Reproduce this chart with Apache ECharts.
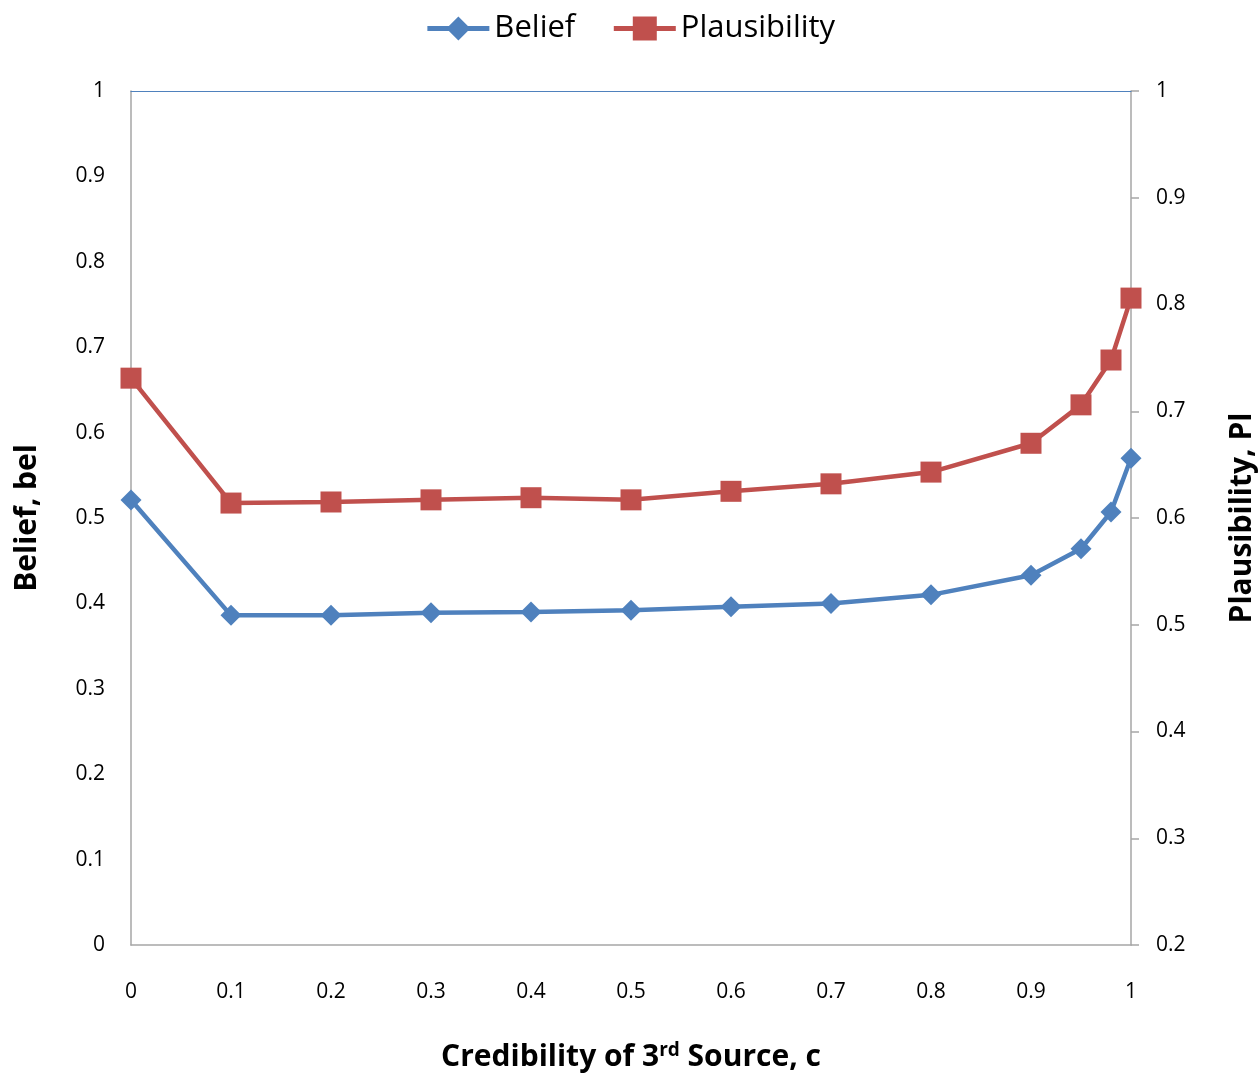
<!DOCTYPE html>
<html>
<head>
<meta charset="utf-8">
<script src="https://cdn.jsdelivr.net/npm/echarts@6/dist/echarts.min.js"></script>
<style>
  html, body { margin: 0; padding: 0; background: #fff; }
  #chart { width: 1260px; height: 1074px; }
</style>
</head>
<body>
<div id="chart"></div>
<script>
// Credibility of the third source
const credibility = [0, 0.1, 0.2, 0.3, 0.4, 0.5, 0.6, 0.7, 0.8, 0.9, 0.95, 0.98, 1];
// Belief (left axis)
const belief = [0.521, 0.386, 0.386, 0.389, 0.390, 0.392, 0.396, 0.400, 0.410, 0.433, 0.464, 0.507, 0.570];
// Plausibility (right axis)
const plausibility = [0.731, 0.614, 0.615, 0.617, 0.619, 0.617, 0.625, 0.632, 0.643, 0.670, 0.706, 0.748, 0.806];

const FONT = '"Open Sans", "Liberation Sans", sans-serif';
const BLUE = '#4f81bd';
const RED = '#c0504d';
const AXIS_GRAY = '#a6a6a6';

const chart = echarts.init(document.getElementById('chart'));

const pairs = (xs, ys) => xs.map((x, i) => [x, ys[i]]);
const tickFmt = v => String(+v.toFixed(1));

chart.setOption({
  animation: false,
  textStyle: { fontFamily: FONT },
  legend: {
    top: 8,
    left: 'center',
    itemWidth: 62,
    itemHeight: 30,
    itemGap: 36,
    lineStyle: { width: 5 },
    textStyle: { fontSize: 31, color: '#000', fontFamily: FONT },
    data: ['Belief', 'Plausibility']
  },
  grid: { left: 131, right: 129, top: 91, bottom: 129, containLabel: false, outerBoundsMode: 'none' },
  xAxis: [
    {
      type: 'value',
      min: 0, max: 1, interval: 0.1,
      axisLine: { show: true, onZero: false, lineStyle: { color: AXIS_GRAY, width: 1.5 } },
      axisTick: { show: false },
      splitLine: { show: false },
      axisLabel: { fontSize: 21, color: '#000', margin: 37, formatter: tickFmt },
      name: '{b|Credibility of 3}{sup|rd}{b| Source, c}',
      nameLocation: 'middle',
      nameGap: 96,
      nameTextStyle: {
        rich: {
          b: { fontSize: 30, fontWeight: 'bold', color: '#000', fontFamily: FONT },
          sup: { fontSize: 19, fontWeight: 'bold', color: '#000', fontFamily: FONT, verticalAlign: 'top', padding: [0, 0, 14, 0] }
        }
      }
    },
    {
      type: 'value',
      position: 'top',
      min: 0, max: 1,
      z: 5,
      axisLine: { show: true, onZero: false, lineStyle: { color: BLUE, width: 1.2 } },
      axisTick: { show: false },
      axisLabel: { show: false },
      splitLine: { show: false }
    }
  ],
  yAxis: [
    {
      type: 'value',
      position: 'left',
      min: 0, max: 1, interval: 0.1,
      axisLine: { show: true, onZero: false, lineStyle: { color: AXIS_GRAY, width: 1.5 } },
      axisTick: { show: false },
      splitLine: { show: false },
      axisLabel: { fontSize: 21, color: '#000', margin: 26, formatter: tickFmt },
      name: 'Belief, bel',
      nameLocation: 'middle',
      nameRotate: 90,
      nameGap: 89,
      nameTextStyle: { fontSize: 30, fontWeight: 'bold', color: '#000', fontFamily: FONT }
    },
    {
      type: 'value',
      position: 'right',
      min: 0.2, max: 1, interval: 0.1,
      axisLine: { show: true, onZero: false, lineStyle: { color: AXIS_GRAY, width: 1.5 } },
      axisTick: { show: true, inside: false, length: 8, lineStyle: { color: AXIS_GRAY, width: 1.5 } },
      splitLine: { show: false },
      axisLabel: { fontSize: 21, color: '#000', margin: 25, formatter: tickFmt },
      name: 'Plausibility, Pl',
      nameLocation: 'middle',
      nameRotate: 90,
      nameGap: 96,
      nameTextStyle: { fontSize: 30, fontWeight: 'bold', color: '#000', fontFamily: FONT }
    }
  ],
  series: [
    {
      name: 'Belief',
      type: 'line',
      xAxisIndex: 0,
      yAxisIndex: 0,
      data: pairs(credibility, belief),
      symbol: 'diamond',
      symbolSize: 21,
      lineStyle: { color: BLUE, width: 4.5 },
      itemStyle: { color: BLUE },
      z: 3
    },
    {
      name: 'Plausibility',
      type: 'line',
      xAxisIndex: 0,
      yAxisIndex: 1,
      data: pairs(credibility, plausibility),
      symbol: 'rect',
      symbolSize: 21,
      lineStyle: { color: RED, width: 4.5 },
      itemStyle: { color: RED },
      z: 2
    }
  ]
});
</script>
</body>
</html>
